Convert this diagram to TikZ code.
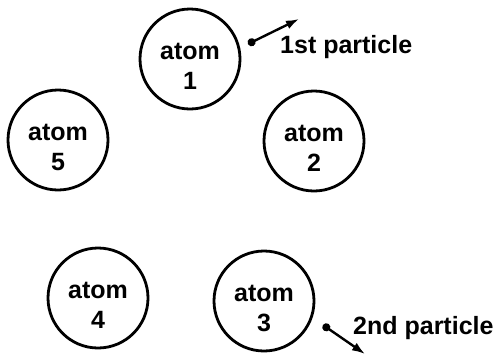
\documentclass[tikz,border=0pt]{standalone}
\usepackage{fontspec}
\setmainfont{Liberation Sans}
\usetikzlibrary{arrows.meta}
\tikzset{
  atom/.style={circle, draw, line width=2.8pt, minimum size=100pt, inner sep=0pt},
  atomtext/.style={align=center, font=\fontsize{25}{30}\selectfont\bfseries, inner sep=0pt},
  ptext/.style={anchor=base west, font=\fontsize{25}{30}\selectfont\bfseries, inner sep=0pt},
  particle/.style={line width=2.4pt, {Circle[length=8pt]}-{Latex[length=13pt,width=9pt]}}
}
\begin{document}
\begin{tikzpicture}[x=1pt,y=-1pt]
\useasboundingbox (0,0) rectangle (500,357);
\node[atom] (a1) at (190,59) {};
\node[atom] (a2) at (314,141) {};
\node[atom] (a3) at (264,301) {};
\node[atom] (a4) at (98,298) {};
\node[atom] (a5) at (58,140) {};
\node[atomtext] (t1) at ([yshift=-7pt]a1.center) {atom\\1};
\node[atomtext] (t2) at ([yshift=-7pt]a2.center) {atom\\2};
\node[atomtext] (t3) at ([yshift=-7pt]a3.center) {atom\\3};
\node[atomtext] (t4) at ([yshift=-7pt]a4.center) {atom\\4};
\node[atomtext] (t5) at ([yshift=-7pt]a5.center) {atom\\5};
\coordinate (p1s) at (248,44);
\coordinate (p1e) at (299,19);
\coordinate (p2s) at (323,325);
\coordinate (p2e) at (365,354);
\draw[particle] (p1s) -- (p1e);
\draw[particle] (p2s) -- (p2e);
\node[ptext] (l1) at (280,53) {1st particle};
\node[ptext] (l2) at (353,334) {2nd particle};
\end{tikzpicture}
\end{document}
